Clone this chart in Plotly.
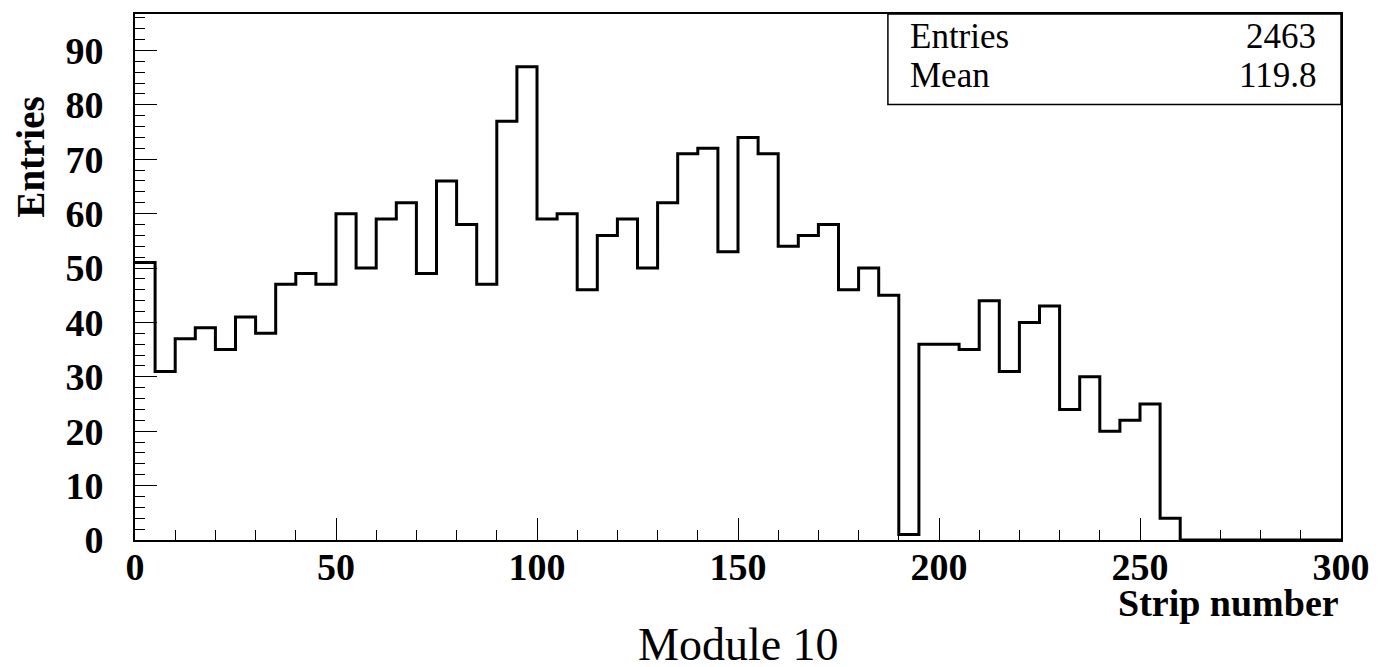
import plotly.graph_objects as go

# Histogram data: 60 bins of width 5 over [0, 300]
bin_width = 5
bin_low = [i * bin_width for i in range(60)]
counts = [51, 31, 37, 39, 35, 41, 38, 47, 49, 47,
          60, 50, 59, 62, 49, 66, 58, 47, 77, 87,
          59, 60, 46, 56, 59, 50, 62, 71, 72, 53,
          74, 71, 54, 56, 58, 46, 50, 45, 1, 36,
          36, 35, 44, 31, 40, 43, 24, 30, 20, 22,
          25, 4, 0, 0, 0, 0, 0, 0, 0, 0]
x_ticks = [0, 50, 100, 150, 200, 250, 300]
y_ticks = [0, 10, 20, 30, 40, 50, 60, 70, 80, 90]
stats_labels = ["Entries", "Mean"]
stats_values = ["2463", "119.8"]
x_title = "Strip number"
y_title = "Entries"
caption = "Module 10"

FONT = "Liberation Serif"

xs = bin_low + [bin_low[-1] + bin_width]
ys = counts + [counts[-1]]

fig = go.Figure()
fig.add_trace(go.Scatter(
    x=xs, y=ys, mode="lines", line=dict(shape="hv", color="black", width=3),
    cliponaxis=False, showlegend=False, hoverinfo="skip"))

axis_common = dict(
    showgrid=False, zeroline=False, showline=True, linecolor="black",
    linewidth=2, mirror=True, ticks="inside", ticklen=22, tickwidth=1,
    tickcolor="black",
    tickfont=dict(family=FONT, size=38, color="black", weight="bold"),
)

fig.update_xaxes(range=[0, 300], tickvals=x_ticks,
                 ticktext=[str(v) for v in x_ticks],
                 minor=dict(dtick=10, ticklen=10, ticks="inside", tickcolor="black", tickwidth=1),
                 ticklabelstandoff=-8, **axis_common)
fig.update_yaxes(range=[0, 96.7], tickvals=y_ticks,
                 ticktext=[str(v) for v in y_ticks],
                 minor=dict(dtick=2, ticklen=10, ticks="inside", tickcolor="black", tickwidth=1),
                 ticklabelstandoff=22, **axis_common)

annotations = [
    dict(text=x_title, x=1.0, y=-0.12, xref="paper", yref="paper",
         xanchor="right", yanchor="middle", showarrow=False,
         font=dict(family=FONT, size=38, color="black", weight="bold")),
    dict(text=y_title, x=-0.0866, y=0.728, xref="paper", yref="paper",
         xanchor="center", yanchor="middle", showarrow=False, textangle=-90,
         font=dict(family=FONT, size=39, color="black", weight="bold")),
    dict(text=caption, x=0.5, y=-0.198, xref="paper", yref="paper",
         xanchor="center", yanchor="middle", showarrow=False,
         font=dict(family=FONT, size=46, color="black")),
]
row_y = [0.957, 0.883]
for lab, val, yy in zip(stats_labels, stats_values, row_y):
    annotations.append(dict(text=lab, x=0.641, y=yy, xref="paper", yref="paper",
                            xanchor="left", yanchor="middle", showarrow=False,
                            font=dict(family=FONT, size=35, color="black")))
    annotations.append(dict(text=val, x=0.981, y=yy, xref="paper", yref="paper",
                            xanchor="right", yanchor="middle", showarrow=False,
                            font=dict(family=FONT, size=35, color="black")))

# page body has an 8px margin; size the figure to fit the window exactly
fig.update_layout(
    width=1371, height=659,
    margin=dict(l=126.5, r=37.5, t=5.6, b=126.5, autoexpand=False),
    paper_bgcolor="white", plot_bgcolor="white",
    annotations=annotations,
    shapes=[dict(type="rect", xref="paper", yref="paper", x0=0.6243, x1=1.0,
                 y0=0.828, y1=1.0, line=dict(color="black", width=1.5),
                 fillcolor="rgba(0,0,0,0)")],
)

fig.write_html("out.html")
